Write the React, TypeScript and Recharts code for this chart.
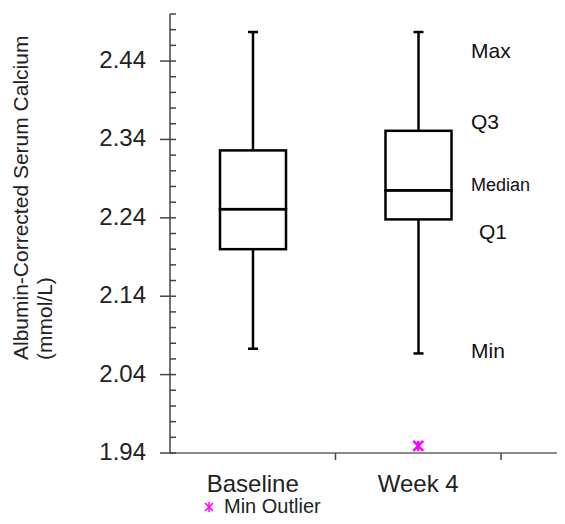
import { ComposedChart, Bar, Scatter, XAxis, YAxis, Label } from 'recharts';

const categories = ['Baseline', 'Week 4'];
const minValues = [2.073, 2.067];
const q1Values = [2.2, 2.238];
const medianValues = [2.251, 2.275];
const q3Values = [2.326, 2.351];
const maxValues = [2.477, 2.477];
const outlierValues: (number | null)[] = [null, 1.949];

const majorTicks = [1.94, 2.04, 2.14, 2.24, 2.34, 2.44];
const minorTicks = [
  1.94, 1.96, 1.98, 2.0, 2.02, 2.04, 2.06, 2.08, 2.1, 2.12, 2.14, 2.16, 2.18, 2.2, 2.22,
  2.24, 2.26, 2.28, 2.3, 2.32, 2.34, 2.36, 2.38, 2.4, 2.42, 2.44, 2.46, 2.48, 2.5,
];
const yDomain = [1.94, 2.5];

const data = categories.map((name, i) => ({
  name,
  base: minValues[i],
  lowWhisker: q1Values[i] - minValues[i],
  lowBox: medianValues[i] - q1Values[i],
  highBox: q3Values[i] - medianValues[i],
  highWhisker: maxValues[i] - q3Values[i],
  outlier: outlierValues[i],
}));

const FONT = "'Liberation Sans', Arial, sans-serif";
const W = 565;
const H = 524;
const LEFT = 170;
const PAD_R = 64;
const BAND = (W - LEFT - PAD_R) / categories.length;

const Empty = () => <g />;

const LowWhisker = (props: any) => {
  const { x, y, width, height } = props;
  const cx = x + width / 2;
  return (
    <g stroke="#000" strokeWidth={2.5}>
      <line x1={cx} x2={cx} y1={y} y2={y + height} />
      <line x1={cx - 5} x2={cx + 5} y1={y + height} y2={y + height} />
    </g>
  );
};

const HighWhisker = (props: any) => {
  const { x, y, width, height } = props;
  const cx = x + width / 2;
  return (
    <g stroke="#000" strokeWidth={2.5}>
      <line x1={cx} x2={cx} y1={y} y2={y + height} />
      <line x1={cx - 5} x2={cx + 5} y1={y} y2={y} />
    </g>
  );
};

const BoxPart = (props: any) => {
  const { x, y, width, height } = props;
  return <rect x={x} y={y} width={width} height={height} fill="none" stroke="#000" strokeWidth={2.5} />;
};

const Asterisk = (props: any) => {
  const { cx, cy } = props;
  if (!Number.isFinite(cx) || !Number.isFinite(cy)) return <g />;
  const r = 5;
  return (
    <g stroke="#ff00ff" strokeWidth={2.5}>
      <line x1={cx} x2={cx} y1={cy - r} y2={cy + r} />
      <line x1={cx - r} x2={cx + r} y1={cy - r} y2={cy + r} />
      <line x1={cx - r} x2={cx + r} y1={cy + r} y2={cy - r} />
    </g>
  );
};

const CategoryTick = (props: any) => {
  const { x, y, payload } = props;
  return (
    <g>
      <line x1={x + BAND / 2} x2={x + BAND / 2} y1={y - 7} y2={y} stroke="#444" strokeWidth={1.5} />
      <text x={x} y={y + 32} textAnchor="middle" fontSize={24} fontFamily={FONT} fill="#222">
        {payload.value}
      </text>
    </g>
  );
};

// every 0.02 gets a short inward tick; the labelled ones also cross the axis
const ValueTick = (props: any) => {
  const { y, payload } = props;
  const isMajor = majorTicks.some((t) => Math.abs(t - payload.value) < 1e-6);
  return (
    <g>
      <line x1={isMajor ? LEFT - 10 : LEFT} x2={LEFT + 6} y1={y} y2={y} stroke="#444" strokeWidth={1.5} />
      {isMajor && (
        <text x={LEFT - 24} y={y + 7} textAnchor="end" fontSize={24} fontFamily={FONT} fill="#222">
          {payload.value.toFixed(2)}
        </text>
      )}
    </g>
  );
};

const YTitle = () => (
  <g fontFamily={FONT} fontSize={21} fill="#222">
    <text x={28} y={360} transform="rotate(-90, 28, 360)">Albumin-Corrected Serum Calcium</text>
    <text x={52} y={360} transform="rotate(-90, 52, 360)">(mmol/L)</text>
  </g>
);

export default function App() {
  return (
    <div style={{ position: 'relative', width: W, height: H, margin: -8, overflow: 'hidden', background: '#fff' }}>
      <ComposedChart width={W} height={H} data={data} margin={{ top: 14, right: 0, bottom: 0, left: 0 }}>
        <XAxis
          dataKey="name"
          type="category"
          padding={{ left: 0, right: PAD_R }}
          interval={0}
          height={71}
          tickSize={7}
          tickMargin={0}
          tickLine={false}
          axisLine={{ stroke: '#666', strokeWidth: 1.5 }}
          tick={<CategoryTick />}
        />
        <YAxis
          yAxisId="main"
          type="number"
          domain={yDomain}
          allowDataOverflow
          ticks={minorTicks}
          interval={0}
          width={LEFT}
          tickLine={false}
          axisLine={{ stroke: '#444', strokeWidth: 1.5 }}
          tick={<ValueTick />}
        >
          <Label content={<YTitle />} />
        </YAxis>
        <Bar yAxisId="main" dataKey="base" stackId="box" barSize={66} shape={<Empty />} isAnimationActive={false} />
        <Bar yAxisId="main" dataKey="lowWhisker" stackId="box" barSize={66} shape={<LowWhisker />} isAnimationActive={false} />
        <Bar yAxisId="main" dataKey="lowBox" stackId="box" barSize={66} shape={<BoxPart />} isAnimationActive={false} />
        <Bar yAxisId="main" dataKey="highBox" stackId="box" barSize={66} shape={<BoxPart />} isAnimationActive={false} />
        <Bar yAxisId="main" dataKey="highWhisker" stackId="box" barSize={66} shape={<HighWhisker />} isAnimationActive={false} />
        <Scatter yAxisId="main" dataKey="outlier" shape={<Asterisk />} isAnimationActive={false} />
      </ComposedChart>
      <svg width={W} height={H} style={{ position: 'absolute', left: 0, top: 0, pointerEvents: 'none' }}>
        <g fontFamily={FONT} fill="#111">
          <text x={471} y={58} fontSize={21}>Max</text>
          <text x={471} y={129} fontSize={21}>Q3</text>
          <text x={471} y={191} fontSize={18}>Median</text>
          <text x={479} y={239} fontSize={21}>Q1</text>
          <text x={471} y={358} fontSize={21}>Min</text>
        </g>
        <g stroke="#ff00ff" strokeWidth={1.5}>
          <line x1={209} x2={209} y1={502} y2={512} />
          <line x1={205} x2={213} y1={503} y2={511} />
          <line x1={205} x2={213} y1={511} y2={503} />
        </g>
        <text x={224} y={513} fontFamily={FONT} fontSize={20} fill="#222">Min Outlier</text>
      </svg>
    </div>
  );
}
